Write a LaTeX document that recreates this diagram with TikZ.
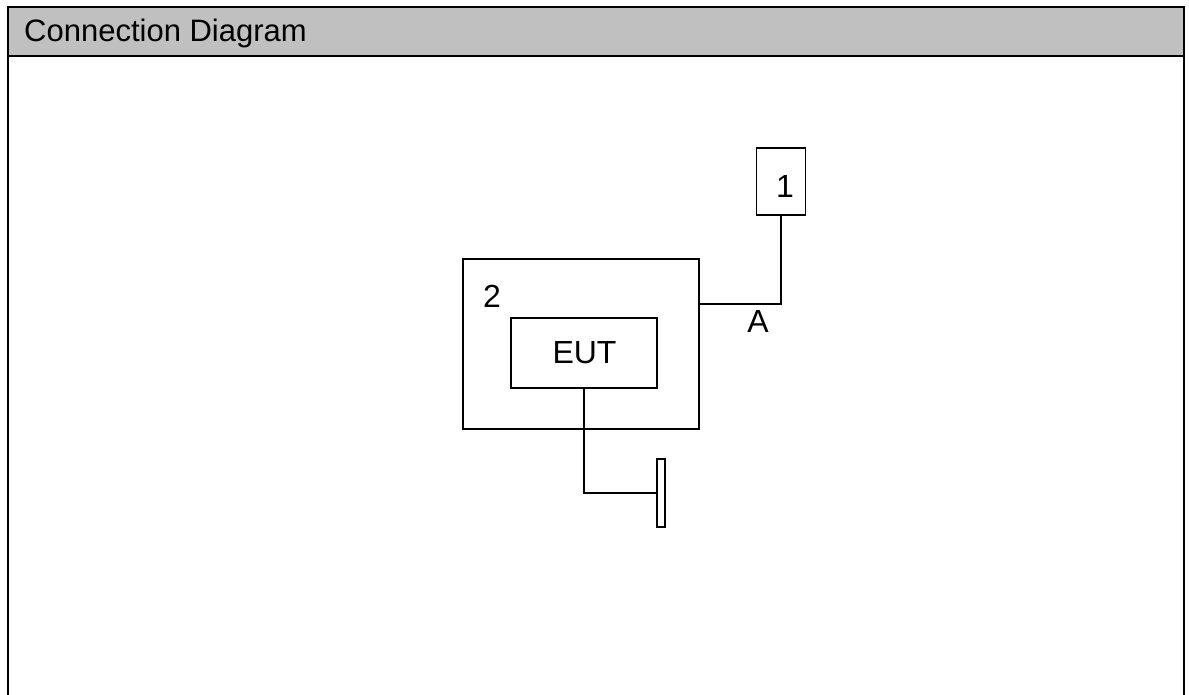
\documentclass[tikz,border=0pt]{standalone}
\usepackage{fontspec}
\setmainfont{Liberation Sans}
\definecolor{hdrgray}{HTML}{C0C0C0}
\begin{document}
\begin{tikzpicture}[x=1pt,y=-1pt,
  box/.style={draw=black,line width=1.8pt,fill=white,inner sep=0pt},
  wire/.style={draw=black,line width=1.8pt},
  lbl/.style={inner sep=0pt,font=\fontsize{32}{34}\selectfont},
  frame/.style={draw=black,line width=2.8pt}]
\useasboundingbox (0,0) rectangle (1189,695);
% header
\fill[hdrgray] (8,7) rectangle (1184,56);
\draw[frame] (8,695) -- (8,7) -- (1184,7) -- (1184,695);
\draw[frame] (8,56) -- (1184,56);
\node[anchor=base west,inner sep=0pt,font=\fontsize{31}{33}\selectfont] (title) at (24,42) {Connection Diagram};
% boxes
\node[box,minimum width=236pt,minimum height=170pt] (b2) at (581,344) {};
\node[lbl] (n2) at (492,296) {2};
\node[box,minimum width=146pt,minimum height=70pt] (eut) at (584,353) {};
\node[lbl] (eutl) at (584.5,353) {EUT};
\node[box,minimum width=49pt,minimum height=67pt] (b1) at (781,181.5) {};
\node[lbl] (n1) at (785,186) {1};
\node[box,minimum width=8pt,minimum height=68pt] (gnd) at (661,493) {};
% connectors
\coordinate (j) at (781,304);
\draw[wire] (b1.south) -- (j) -- (j -| b2.east);
\node[lbl] (A) at (758,321) {A};
\draw[wire] (eut.south) |- (gnd.west);
\end{tikzpicture}
\end{document}
